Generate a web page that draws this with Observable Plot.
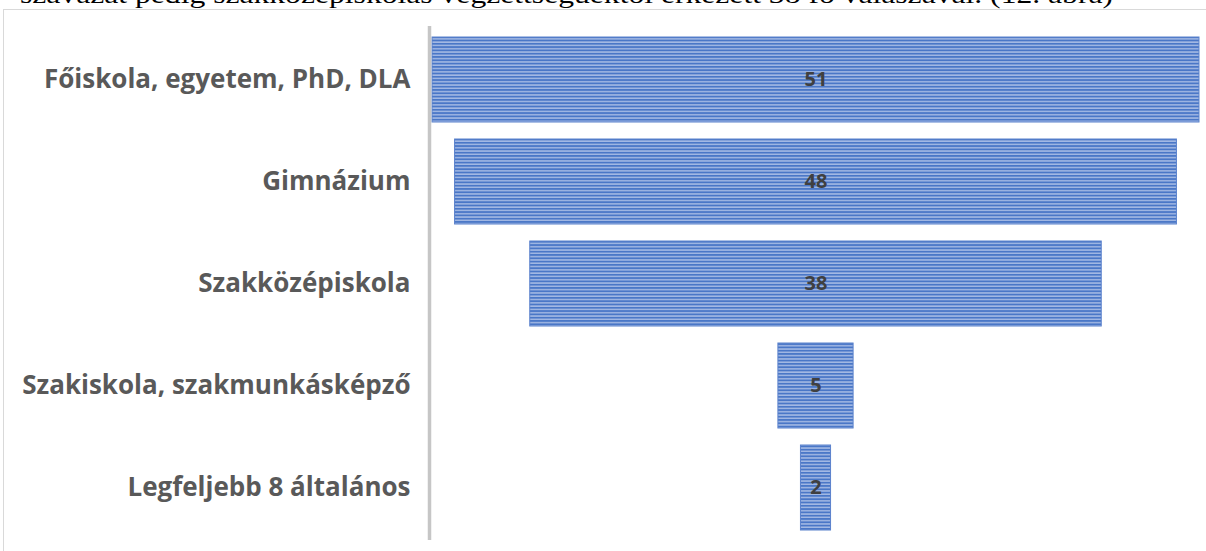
<!DOCTYPE html>
<html>
<head>
<meta charset="utf-8">
<script src="https://cdn.jsdelivr.net/npm/d3@7"></script>
<script src="https://cdn.jsdelivr.net/npm/@observablehq/plot@0.6"></script>
<style>
  html, body { margin: 0; padding: 0; background: #fff; }
  #wrap { position: relative; width: 1206px; height: 551px; overflow: hidden; background: #fff; }
  #frame { position: absolute; left: 3px; top: 9px; width: 1300px; height: 700px; border-left: 1px solid #d9d9d9; border-top: 1px solid #d9d9d9; }
  #cap { position: absolute; left: 20px; top: 0; width: 1190px; height: 9px; overflow: hidden; }
  #capText { position: absolute; left: 0; top: -17.8px; font-family: "Liberation Serif", "DejaVu Serif", serif; font-size: 26px; line-height: 26px; white-space: nowrap; color: #000; transform-origin: 0 0; }
  #chart { position: absolute; left: 0; top: 0; }
</style>
</head>
<body>
<div id="wrap">
  <div id="frame"></div>
  <div id="cap"><span id="capText"></span></div>
  <div id="chart"></div>
</div>
<script>
const captionText = "szavazat pedig szakközépiskolás végzettségűektől érkezett 38 fő válaszával. (12. ábra)";
const categories = ["Főiskola, egyetem, PhD, DLA", "Gimnázium", "Szakközépiskola", "Szakiskola, szakmunkásképző", "Legfeljebb 8 általános"];
const values = [51, 48, 38, 5, 2];

const data = categories.map((c, i) => ({category: c, value: values[i]}));
const maxV = d3.max(values);

const cap = document.getElementById("capText");
cap.textContent = captionText;
const w = cap.getBoundingClientRect().width;
cap.style.transform = `scaleX(${1093 / w})`;

const chart = Plot.plot({
  width: 1206,
  height: 551,
  marginLeft: 432,
  marginRight: 7,
  marginTop: 26,
  marginBottom: 11,
  style: {background: "transparent", overflow: "visible"},
  x: {domain: [-maxV / 2, maxV / 2], range: [432, 1199], axis: null},
  y: {domain: categories, range: [18.6, 548.5], padding: 0.17, label: null},
  marks: [
    Plot.barX(data, {
      x1: d => -d.value / 2,
      x2: d => d.value / 2,
      y: "category",
      fill: "url(#stripes)",
      stroke: "#5b82cc",
      strokeWidth: 1,
      inset: 0
    }),
    Plot.ruleX([-maxV / 2], {dx: -3, stroke: "#c6c6c6", strokeWidth: 3.5}),
    Plot.axisY({
      tickSize: 0,
      tickPadding: 22,
      fontSize: 26,
      fontWeight: "bold",
      fill: "#595959",
      fontFamily: "Open Sans",
      label: null
    }),
    Plot.text(data, {
      x: d => 0,
      y: "category",
      text: d => String(d.value),
      fontSize: 20,
      fontWeight: "bold",
      fill: "#404040",
      fontFamily: "Open Sans"
    })
  ]
});

const defs = d3.select(chart).insert("defs", ":first-child");
const pat = defs.append("pattern")
  .attr("id", "stripes")
  .attr("patternUnits", "userSpaceOnUse")
  .attr("width", 20)
  .attr("height", 3.3);
pat.append("rect").attr("width", 20).attr("height", 3.3).attr("fill", "#a3b9e4");
pat.append("rect").attr("width", 20).attr("height", 1.8).attr("fill", "#4a77c7");

document.getElementById("chart").appendChild(chart);
</script>
</body>
</html>
